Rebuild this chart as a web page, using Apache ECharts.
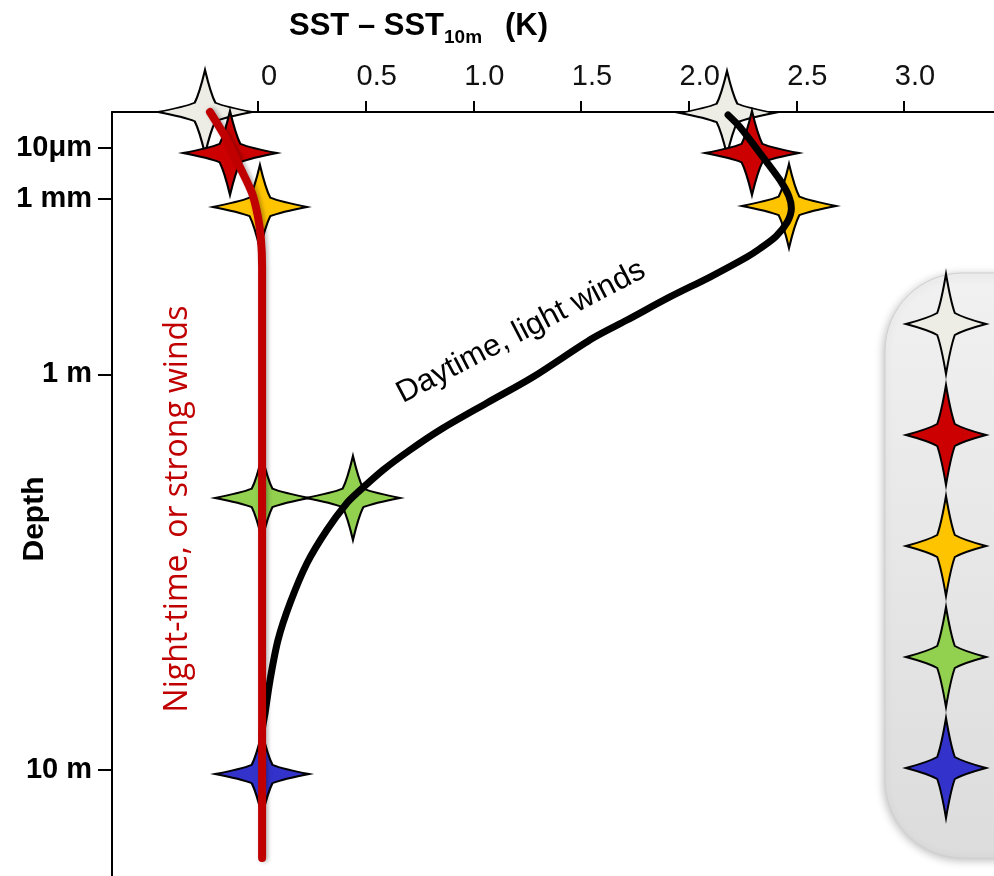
<!DOCTYPE html>
<html>
<head>
<meta charset="UTF-8">
<script src="https://cdn.jsdelivr.net/npm/echarts@6/dist/echarts.min.js"></script>
<style>
  html, body { margin: 0; padding: 0; background: #fff; }
  #chart { width: 994px; height: 876px; }
</style>
</head>
<body>
<div id="chart"></div>
<script>
// x: SST - SST10m (K); y: schematic depth position (0 = surface, 100 = bottom of plot)
const xTickValues = [0, 0.5, 1.0, 1.5, 2.0, 2.5, 3.0];
const depthTickLabels = ['10\u03bcm', '1 mm', '1 m', '10 m'];
const depthTickPos = [4.67, 11.39, 34.33, 86.13];

// night-time / strong winds profile
const nightCurve = [
  [-0.223, 0], [-0.144, 3.66], [-0.084, 7.2], [-0.028, 10.6], [0, 13.74],
  [0.014, 16.75], [0.019, 20.29], [0.019, 40], [0.019, 97.64]
];

// daytime / light winds profile
const dayCurve = [
  [2.183, 0.39], [2.238, 1.96], [2.331, 5.37], [2.424, 8.9], [2.465, 11.0],
  [2.477, 12.6], [2.458, 14.4], [2.405, 16.3], [2.33, 17.9], [2.271, 18.98],
  [2.099, 21.6], [1.913, 24.21], [1.714, 27.23], [1.556, 29.58], [1.277, 34.69],
  [1.063, 38.09], [0.845, 41.62], [0.706, 44.24], [0.581, 46.86], [0.46, 49.87],
  [0.413, 51.18], [0.32, 54.71], [0.228, 59.03], [0.149, 64.27], [0.093, 69.11],
  [0.056, 74.35], [0.033, 78.66], [0.019, 81.28], [0.019, 84]
];

// star markers per SST definition
const layerNames = ['SSTint', 'SSTskin', 'SSTsubskin', 'SSTdepth', 'SSTfnd'];
const layerColors = ['#eeede5', '#cc0000', '#ffc400', '#92d050', '#3333cc'];
const sstInt = [[-0.246, 0], [2.178, 0.13]];
const sstSkin = [[-0.13, 5.37], [2.294, 5.37]];
const sstSubskin = [[0.009, 12.43], [2.466, 12.3]];
const sstDepth = [[0.019, 50.52], [0.441, 50.52]];
const sstFnd = [[0.019, 86.65]];
const layerData = [sstInt, sstSkin, sstSubskin, sstDepth, sstFnd];

const starPath = 'path://M0,-50 Q6,-22 11,-11 Q22,-6 50,0 Q22,6 11,11 Q6,22 0,50 ' +
  'Q-6,22 -11,11 Q-22,6 -50,0 Q-22,-6 -11,-11 Q-6,-22 0,-50 Z';

const chart = echarts.init(document.getElementById('chart'));

function depthLabel(v) {
  for (let i = 0; i < depthTickPos.length; i++) {
    if (Math.abs(depthTickPos[i] - v) < 1e-6) {return depthTickLabels[i];}
  }
  return '';
}

const starSeries = layerNames.map((name, i) => ({
  name: name,
  type: 'scatter',
  data: layerData[i],
  symbol: starPath,
  symbolSize: [94, 84],
  clip: false,
  z: 2,
  itemStyle: { color: layerColors[i], borderColor: '#000', borderWidth: 2, opacity: 1 },
  emphasis: { disabled: true }
}));

const option = {
  animation: false,
  backgroundColor: '#fff',
  grid: { left: 112, top: 112, right: 0, bottom: 0 },
  xAxis: {
    type: 'value',
    position: 'top',
    min: -0.678,
    max: 3.418,
    axisLine: { onZero: false, lineStyle: { color: '#000', width: 2 } },
    axisTick: { customValues: xTickValues, length: 11, lineStyle: { color: '#000', width: 2 } },
    axisLabel: {
      customValues: xTickValues,
      formatter: v => (v === 0 ? '0' : v.toFixed(1)),
      fontFamily: 'Liberation Sans',
      fontSize: 29,
      color: '#111',
      margin: 21,
      padding: [0, 0, 0, 22]
    },
    splitLine: { show: false }
  },
  yAxis: {
    type: 'value',
    inverse: true,
    min: 0,
    max: 100,
    axisLine: { onZero: false, lineStyle: { color: '#000', width: 2 } },
    axisTick: { customValues: depthTickPos, length: 14, lineStyle: { color: '#000', width: 2 } },
    axisLabel: {
      customValues: depthTickPos,
      formatter: depthLabel,
      fontFamily: 'Liberation Sans',
      fontWeight: 'bold',
      fontSize: 29,
      color: '#000',
      margin: 20
    },
    splitLine: { show: false }
  },
  legend: {
    data: layerNames,
    orient: 'vertical',
    left: 905,
    top: 273,
    padding: 0,
    itemWidth: 80,
    itemHeight: 100,
    itemGap: 9,
    symbolKeepAspect: false,
    selectedMode: false,
    formatter: () => '',
    z: 10
  },
  graphic: [
    {
      type: 'rect',
      z: 0,
      shape: { x: 885, y: 273, width: 220, height: 585, r: 78 },
      style: {
        fill: new echarts.graphic.LinearGradient(0, 0, 0, 1, [
          { offset: 0, color: '#f1f1f1' },
          { offset: 1, color: '#dcdcdc' }
        ]),
        stroke: '#d0d0d0',
        lineWidth: 1,
        shadowColor: 'rgba(0,0,0,0.25)',
        shadowBlur: 8,
        shadowOffsetX: -1,
        shadowOffsetY: 2
      }
    },
    {
      type: 'text', x: 289, y: 26,
      style: { text: 'SST \u2013 SST', font: 'bold 31px "Liberation Sans"', fill: '#000', textAlign: 'left', textVerticalAlign: 'middle' }
    },
    {
      type: 'text', x: 444, y: 38,
      style: { text: '10m', font: 'bold 19px "Liberation Sans"', fill: '#000', textAlign: 'left', textVerticalAlign: 'middle' }
    },
    {
      type: 'text', x: 505, y: 26,
      style: { text: '(K)', font: 'bold 31px "Liberation Sans"', fill: '#000', textAlign: 'left', textVerticalAlign: 'middle' }
    },
    {
      type: 'text', x: 35, y: 519, rotation: Math.PI / 2,
      style: { text: 'Depth', font: 'bold 30px "Liberation Sans"', fill: '#000', textAlign: 'center', textVerticalAlign: 'middle' }
    },
    {
      type: 'text', x: 178, y: 509, rotation: Math.PI / 2, z: 5,
      style: { text: 'Night-time, or strong winds', font: '32px "Open Sans"', fill: '#c00000', textAlign: 'center', textVerticalAlign: 'middle' }
    },
    {
      type: 'text', x: 521, y: 332, rotation: 0.48, z: 5,
      style: { text: 'Daytime, light winds', font: '31px "Liberation Sans"', fill: '#000', textAlign: 'center', textVerticalAlign: 'middle' }
    }
  ],
  series: [
    ...starSeries,
    {
      name: 'Daytime, light winds',
      type: 'line',
      data: dayCurve,
      smooth: 0.3,
      showSymbol: false,
      clip: false,
      z: 3,
      lineStyle: { color: '#000', width: 7, cap: 'round' },
      emphasis: { disabled: true }
    },
    {
      name: 'Night-time, or strong winds',
      type: 'line',
      data: nightCurve,
      smooth: 0.3,
      showSymbol: false,
      clip: false,
      z: 4,
      lineStyle: {
        color: '#c00000', width: 8, cap: 'round',
        shadowColor: 'rgba(0,0,0,0.3)', shadowBlur: 4, shadowOffsetX: 2
      },
      emphasis: { disabled: true }
    }
  ]
};

chart.setOption(option);
</script>
</body>
</html>
